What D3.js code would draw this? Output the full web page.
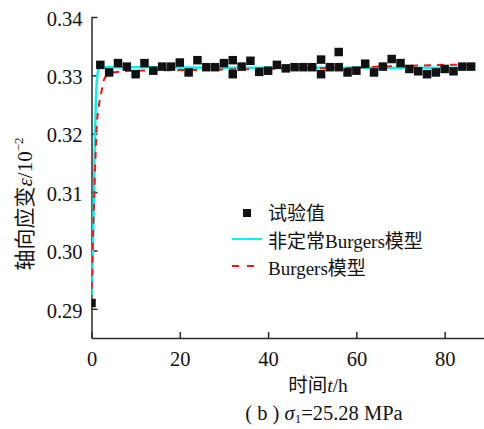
<!DOCTYPE html>
<html>
<head>
<meta charset="utf-8">
<script src="https://cdn.jsdelivr.net/npm/d3@7"></script>
<style>
  html, body { margin: 0; padding: 0; background: #fff; }
  svg { display: block; }
  text { font-family: "Liberation Serif", "Noto Sans CJK SC", serif; fill: #111; }
</style>
</head>
<body>
<div id="chart"></div>
<script>
// ---- data (strain in units of 10^-2, time in h) ----
const testTime = [0, 2, 4, 6, 8, 10, 12, 14, 16, 18, 20, 22, 24, 26, 28, 30, 32, 32, 34, 36, 38, 40,
  42, 44, 46, 48, 50, 52, 52, 54, 56, 56, 58, 60, 62, 64, 66, 68, 70, 72, 74, 76, 78, 80, 82, 84, 86];
const testStrain = [0.2910, 0.3318, 0.3305, 0.3321, 0.3315, 0.3302, 0.3321, 0.3308, 0.3315, 0.3315,
  0.3322, 0.3305, 0.3326, 0.3314, 0.3314, 0.3321, 0.3326, 0.3302, 0.3315, 0.3325, 0.3306, 0.3308,
  0.3318, 0.3312, 0.3314, 0.3314, 0.3314, 0.3327, 0.3302, 0.3314, 0.3340, 0.3314, 0.3305, 0.3308,
  0.3320, 0.3305, 0.3315, 0.3328, 0.3321, 0.3311, 0.3307, 0.3302, 0.3305, 0.3311, 0.3307, 0.3315, 0.3315];

const unsteadyTime = [0, 0.2, 0.4, 0.6, 0.8, 1.0, 1.2, 1.4, 1.7, 2.2, 10, 30, 50, 70, 86];
const unsteadyStrain = [0.2912, 0.2980, 0.3040, 0.3120, 0.3205, 0.3258, 0.3290, 0.3305, 0.3311, 0.3314,
  0.3314, 0.3313, 0.3313, 0.3313, 0.3313];

const burgersTime = [0, 0.3, 0.6, 0.9, 1.2, 1.6, 2.0, 2.4, 2.8, 3.5, 5, 10, 20, 30, 40, 50, 60, 65, 70, 75, 80, 86];
const burgersStrain = [0.2912, 0.3010, 0.3090, 0.3160, 0.3215, 0.3245, 0.3262, 0.3278, 0.3292, 0.3300,
  0.3305, 0.3308, 0.3309, 0.3310, 0.3311, 0.3312, 0.3313, 0.3315, 0.3316, 0.3317, 0.3318, 0.3318];

const xTicks = [0, 20, 40, 60, 80];
const yTicks = [0.29, 0.30, 0.31, 0.32, 0.33, 0.34];
const legendLabels = ["试验值", "非定常Burgers模型", "Burgers模型"];

// ---- drawing ----
const W = 484, H = 429;
const svg = d3.select("#chart").append("svg").attr("width", W).attr("height", H);

const x = d3.scaleLinear().domain([0, 89]).range([91.5, 484.4]);
const y = d3.scaleLinear().domain([0.285, 0.34]).range([338, 17]);

svg.append("defs").append("clipPath").attr("id", "plotclip")
  .append("rect").attr("x", x(0)).attr("y", 0).attr("width", W - x(0)).attr("height", y(0.285));

// axes
const axisColor = "#2a2a2a";
const gx = svg.append("g").attr("transform", `translate(0,${y(0.285)})`)
  .call(d3.axisBottom(x).tickValues(xTicks).tickSize(-6).tickSizeOuter(0).tickPadding(13).tickFormat(d3.format("d")));
const gy = svg.append("g").attr("transform", `translate(${x(0)},0)`)
  .call(d3.axisLeft(y).tickValues(yTicks).tickSize(-6).tickSizeOuter(0).tickPadding(9).tickFormat(d3.format(".2f")));
[gx, gy].forEach(g => {
  g.select(".domain").attr("stroke", axisColor).attr("stroke-width", 1.5);
  g.selectAll(".tick line").attr("stroke", axisColor).attr("stroke-width", 1.5);
  g.selectAll(".tick text").attr("font-family", "Liberation Serif").attr("font-size", 20.5).attr("fill", "#111");
});
gy.selectAll(".tick text").attr("dy", "0.4em");

const plot = svg.append("g").attr("clip-path", "url(#plotclip)");

// model curves
const lineGen = d3.line().x(d => x(d[0])).y(d => y(d[1])).curve(d3.curveMonotoneX);
plot.append("path")
  .attr("d", lineGen(unsteadyTime.map((t, i) => [t, unsteadyStrain[i]])))
  .attr("fill", "none").attr("stroke", "#00f4f4").attr("stroke-width", 2.5);
plot.append("path")
  .attr("d", lineGen(burgersTime.map((t, i) => [t, burgersStrain[i]])))
  .attr("fill", "none").attr("stroke", "#ff1010").attr("stroke-width", 2).attr("stroke-dasharray", "7,6");

// test points
const sq = 8.5;
plot.selectAll("rect.pt").data(testTime.map((t, i) => [t, testStrain[i]])).enter()
  .append("rect").attr("class", "pt")
  .attr("x", d => x(d[0]) - sq / 2).attr("y", d => y(d[1]) - sq / 2)
  .attr("width", sq).attr("height", sq).attr("fill", "#111");

// legend
const lg = svg.append("g");
const lx0 = 232, lx1 = 262, ltx = 268;
const ly = [213, 241, 268];
lg.append("rect").attr("x", (lx0 + lx1) / 2 - 4).attr("y", ly[0] - 4).attr("width", 8).attr("height", 8).attr("fill", "#111");
lg.append("line").attr("x1", lx0).attr("x2", lx1).attr("y1", ly[1] - 2).attr("y2", ly[1] - 2)
  .attr("stroke", "#00f4f4").attr("stroke-width", 2);
lg.append("line").attr("x1", lx0).attr("x2", lx1 - 6).attr("y1", ly[2] - 2).attr("y2", ly[2] - 2)
  .attr("stroke", "#ff1010").attr("stroke-width", 2).attr("stroke-dasharray", "7,8");
legendLabels.forEach((s, i) => {
  const t = lg.append("text").attr("x", ltx).attr("y", ly[i]).attr("dy", "0.35em").attr("font-size", 19);
  const parts = s.match(/[A-Za-z]+|[^A-Za-z]+/g);
  parts.forEach(p => {
    const isLatin = /^[A-Za-z]+$/.test(p);
    t.append("tspan").attr("font-family", isLatin ? "Liberation Serif" : "Noto Sans CJK SC").text(p);
  });
});

// x-axis title
const xt = svg.append("text").attr("x", 318).attr("y", 385).attr("dy", "0.35em")
  .attr("text-anchor", "middle").attr("font-size", 19.5);
xt.append("tspan").attr("font-family", "Noto Sans CJK SC").text("时间");
xt.append("tspan").attr("font-style", "italic").text("t");
xt.append("tspan").text("/h");

// y-axis title
const yt = svg.append("text").attr("transform", "translate(25,204) rotate(-90)")
  .attr("text-anchor", "middle").attr("dy", "0.35em").attr("font-size", 21);
yt.append("tspan").attr("font-family", "Noto Sans CJK SC").text("轴向应变");
yt.append("tspan").attr("font-style", "italic").text("ε");
yt.append("tspan").text("/10");
yt.append("tspan").attr("font-size", 13).attr("dy", "-0.75em").text("−2");

// caption
const cap = svg.append("text").attr("x", 324).attr("y", 420)
  .attr("text-anchor", "middle").attr("font-size", 20.5);
cap.append("tspan").text("( b ) ");
cap.append("tspan").attr("font-style", "italic").text("σ");
cap.append("tspan").attr("font-size", 13).attr("dy", "0.25em").text("1");
cap.append("tspan").attr("dy", "-0.16em").text("=25.28 MPa");
</script>
</body>
</html>
